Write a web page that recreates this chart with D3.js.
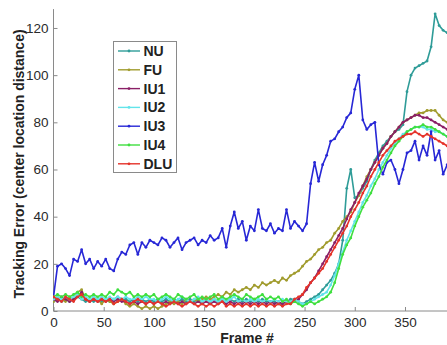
<!DOCTYPE html>
<html><head><meta charset="utf-8">
<script src="https://cdn.jsdelivr.net/npm/d3@7"></script>
<style>html,body{margin:0;padding:0;background:#fff;overflow:hidden}svg{display:block}</style>
</head><body>
<svg id="c" width="447" height="345"></svg>
<script>
const frames = [
0,4,8,12,16,20,24,28,32,36,
40,44,48,52,56,60,64,68,72,76,
80,84,88,92,96,100,104,108,112,116,
120,124,128,132,136,140,144,148,152,156,
160,164,168,172,176,180,184,188,192,196,
200,204,208,212,216,220,224,228,232,236,
240,244,248,252,256,260,264,268,272,276,
280,284,288,292,296,300,304,308,312,316,
320,324,328,332,336,340,344,348,352,356,
360,364,368,372,376,380,384,388,392];

const seriesNames = ["NU","FU","IU1","IU2","IU3","IU4","DLU"];
const seriesColors = ["#2f9c98","#a19c2e","#8a1f66","#62e4ea","#2727d6","#3fdf3f","#e5332a"];

const NU = [
4,5,4,5,4,5,6,5,4,5,
4,5,4,5,4,5,6,5,5,4,
5,4,5,4,5,4,5,4,5,4,
5,4,5,4,5,4,5,4,5,4,
5,4,5,4,5,4,5,4,5,4,
5,4,5,4,4,4,3,3,4,5,
5,4,3,4,5,6,7,9,11,13,
16,20,30,52,60,48,49,52,55,60,
64,67,70,72,74,76,77,79,93,100,
103,104,105,106,112,126,121,119,118];

const FU = [
4,6,5,4,6,5,8,9,5,4,
6,5,3,5,4,3,4,5,3,2,
3,2,1,2,1,2,1,2,3,4,
3,4,3,5,4,5,4,5,6,5,
6,7,6,8,7,9,8,9,10,9,
11,10,12,11,12,13,12,14,13,15,
16,17,19,21,22,24,26,27,29,30,
33,35,38,40,42,46,49,53,57,60,
63,66,69,71,74,76,78,80,81,82,
83,84,84,85,85,85,83,81,80];

const IU1 = [
5,4,6,5,4,5,6,8,5,4,
5,4,5,4,5,4,5,4,4,3,
4,3,4,3,4,3,4,3,4,3,
4,3,4,3,4,3,4,3,4,3,
4,3,4,3,4,3,4,3,4,3,
4,3,4,3,4,3,4,3,4,4,
4,5,7,9,12,14,17,20,23,26,
29,32,35,39,43,46,50,53,56,60,
63,66,69,71,74,76,78,80,81,82,
83,83,82,82,81,80,79,78,77];

const IU2 = [
5,6,5,6,5,6,7,5,6,5,
6,5,6,5,6,5,6,5,6,5,
5,6,5,6,5,5,4,5,6,5,
4,5,6,5,4,5,6,4,5,4,
5,4,5,4,5,6,4,5,4,5,
4,5,4,5,4,5,4,5,4,4,
5,4,3,3,4,5,6,7,8,11,
15,20,25,30,34,38,42,46,49,53,
56,60,63,66,69,71,73,75,76,77,
78,78,78,77,77,76,76,75,74];

const IU3 = [
6,19,20,18,15,22,21,26,20,22,
18,21,19,22,18,17,22,25,24,28,
29,24,29,27,30,29,28,31,30,27,
29,31,26,29,30,31,28,30,29,32,
30,31,35,27,36,42,35,38,30,36,
34,43,35,34,37,33,35,34,43,35,
38,36,34,37,54,63,55,62,66,72,
73,76,78,82,84,94,100,81,77,79,
80,62,58,63,64,60,54,60,67,68,
72,64,70,66,76,64,68,58,62];

const IU4 = [
6,7,6,7,6,7,8,6,7,6,
7,6,7,6,8,7,9,8,7,8,
6,7,6,7,6,7,5,6,7,6,
5,7,6,5,6,7,5,6,5,6,
7,5,6,5,6,7,6,5,7,6,
5,6,7,5,6,5,6,4,5,3,
4,3,2,3,4,3,4,5,6,8,
12,18,24,28,31,36,40,44,47,50,
54,57,61,64,67,70,72,74,76,77,
78,78,79,78,78,77,76,75,74];

const DLU = [
6,5,4,6,5,4,6,7,5,4,
5,4,5,4,5,3,4,5,4,3,
4,5,4,3,4,3,4,3,2,3,
4,3,2,3,4,3,2,3,2,3,
2,3,4,2,3,2,3,2,3,2,
3,2,3,2,3,2,3,2,3,3,
5,6,7,10,12,14,16,18,21,24,
27,30,33,36,40,43,46,50,53,57,
60,63,66,68,70,72,73,74,75,75,
76,75,74,75,74,73,72,71,70];

const xTicks = [0,50,100,150,200,250,300,350];
const yTicks = [0,20,40,60,80,100,120];
const xLabel = "Frame #";
const yLabel = "Tracking Error (center location distance)";

const seriesValues = [NU, FU, IU1, IU2, IU3, IU4, DLU];

const svg = d3.select("#c");
const x = d3.scaleLinear().domain([0,400]).range([53.5,455.2]);
const y = d3.scaleLinear().domain([0,128]).range([311,9.1]);

svg.append("defs").append("clipPath").attr("id","clip")
  .append("rect").attr("x",53).attr("y",8).attr("width",410).attr("height",304);

const font = "'Liberation Sans', Arial, sans-serif";
const axisCol = "#8a8a8a";

// axes
const gx = svg.append("g").attr("transform","translate(0,311)")
  .call(d3.axisBottom(x).tickValues(xTicks).tickSizeInner(-4).tickSizeOuter(0).tickPadding(6));
const gy = svg.append("g").attr("transform","translate(53.5,0)")
  .call(d3.axisLeft(y).tickValues(yTicks).tickSizeInner(-4).tickSizeOuter(0).tickPadding(5));
[gx,gy].forEach(g=>{
  g.select(".domain").remove();
  g.selectAll(".tick line").attr("stroke",axisCol);
  g.selectAll(".tick text").attr("fill","#2a2a2a").style("font-family",font).style("font-size","13.5px");
});
svg.append("line").attr("x1",53.5).attr("x2",460).attr("y1",311).attr("y2",311).attr("stroke",axisCol);
svg.append("line").attr("x1",53.5).attr("x2",53.5).attr("y1",311).attr("y2",9.1).attr("stroke",axisCol);

// series
const plot = svg.append("g").attr("clip-path","url(#clip)");
const line = d3.line().x((d,i)=>x(frames[i])).y(d=>y(d));
seriesValues.forEach((vals,k)=>{
  const g = plot.append("g");
  g.append("path").attr("d",line(vals)).attr("fill","none")
    .attr("stroke",seriesColors[k]).attr("stroke-width",1.6).attr("stroke-linejoin","round");
  g.selectAll("circle").data(vals).join("circle")
    .attr("cx",(d,i)=>x(frames[i])).attr("cy",d=>y(d)).attr("r",1.4)
    .attr("fill",seriesColors[k]);
});

// labels
svg.append("text").attr("x",247).attr("y",343).attr("text-anchor","middle")
  .style("font-family",font).style("font-size","14px").style("font-weight","bold")
  .attr("fill","#222").text(xLabel);
svg.append("text").attr("transform","translate(24,164) rotate(-90)").attr("text-anchor","middle")
  .style("font-family",font).style("font-size","14px").style("font-weight","bold")
  .attr("fill","#222").text(yLabel);

// legend
const lg = svg.append("g");
lg.append("rect").attr("x",113.5).attr("y",41.5).attr("width",63).attr("height",131)
  .attr("fill","#fff").attr("stroke","#8a8a8a").attr("stroke-width",1);
seriesNames.forEach((n,k)=>{
  const cy = 51 + k*18.8;
  lg.append("line").attr("x1",118).attr("x2",140).attr("y1",cy).attr("y2",cy)
    .attr("stroke",seriesColors[k]).attr("stroke-width",1.4);
  lg.append("circle").attr("cx",129).attr("cy",cy).attr("r",1.4).attr("fill",seriesColors[k]);
  lg.append("text").attr("x",143.5).attr("y",cy+5).style("font-family",font)
    .style("font-size","14px").style("font-weight","bold").attr("fill","#222").text(n);
});
</script>
</body></html>
